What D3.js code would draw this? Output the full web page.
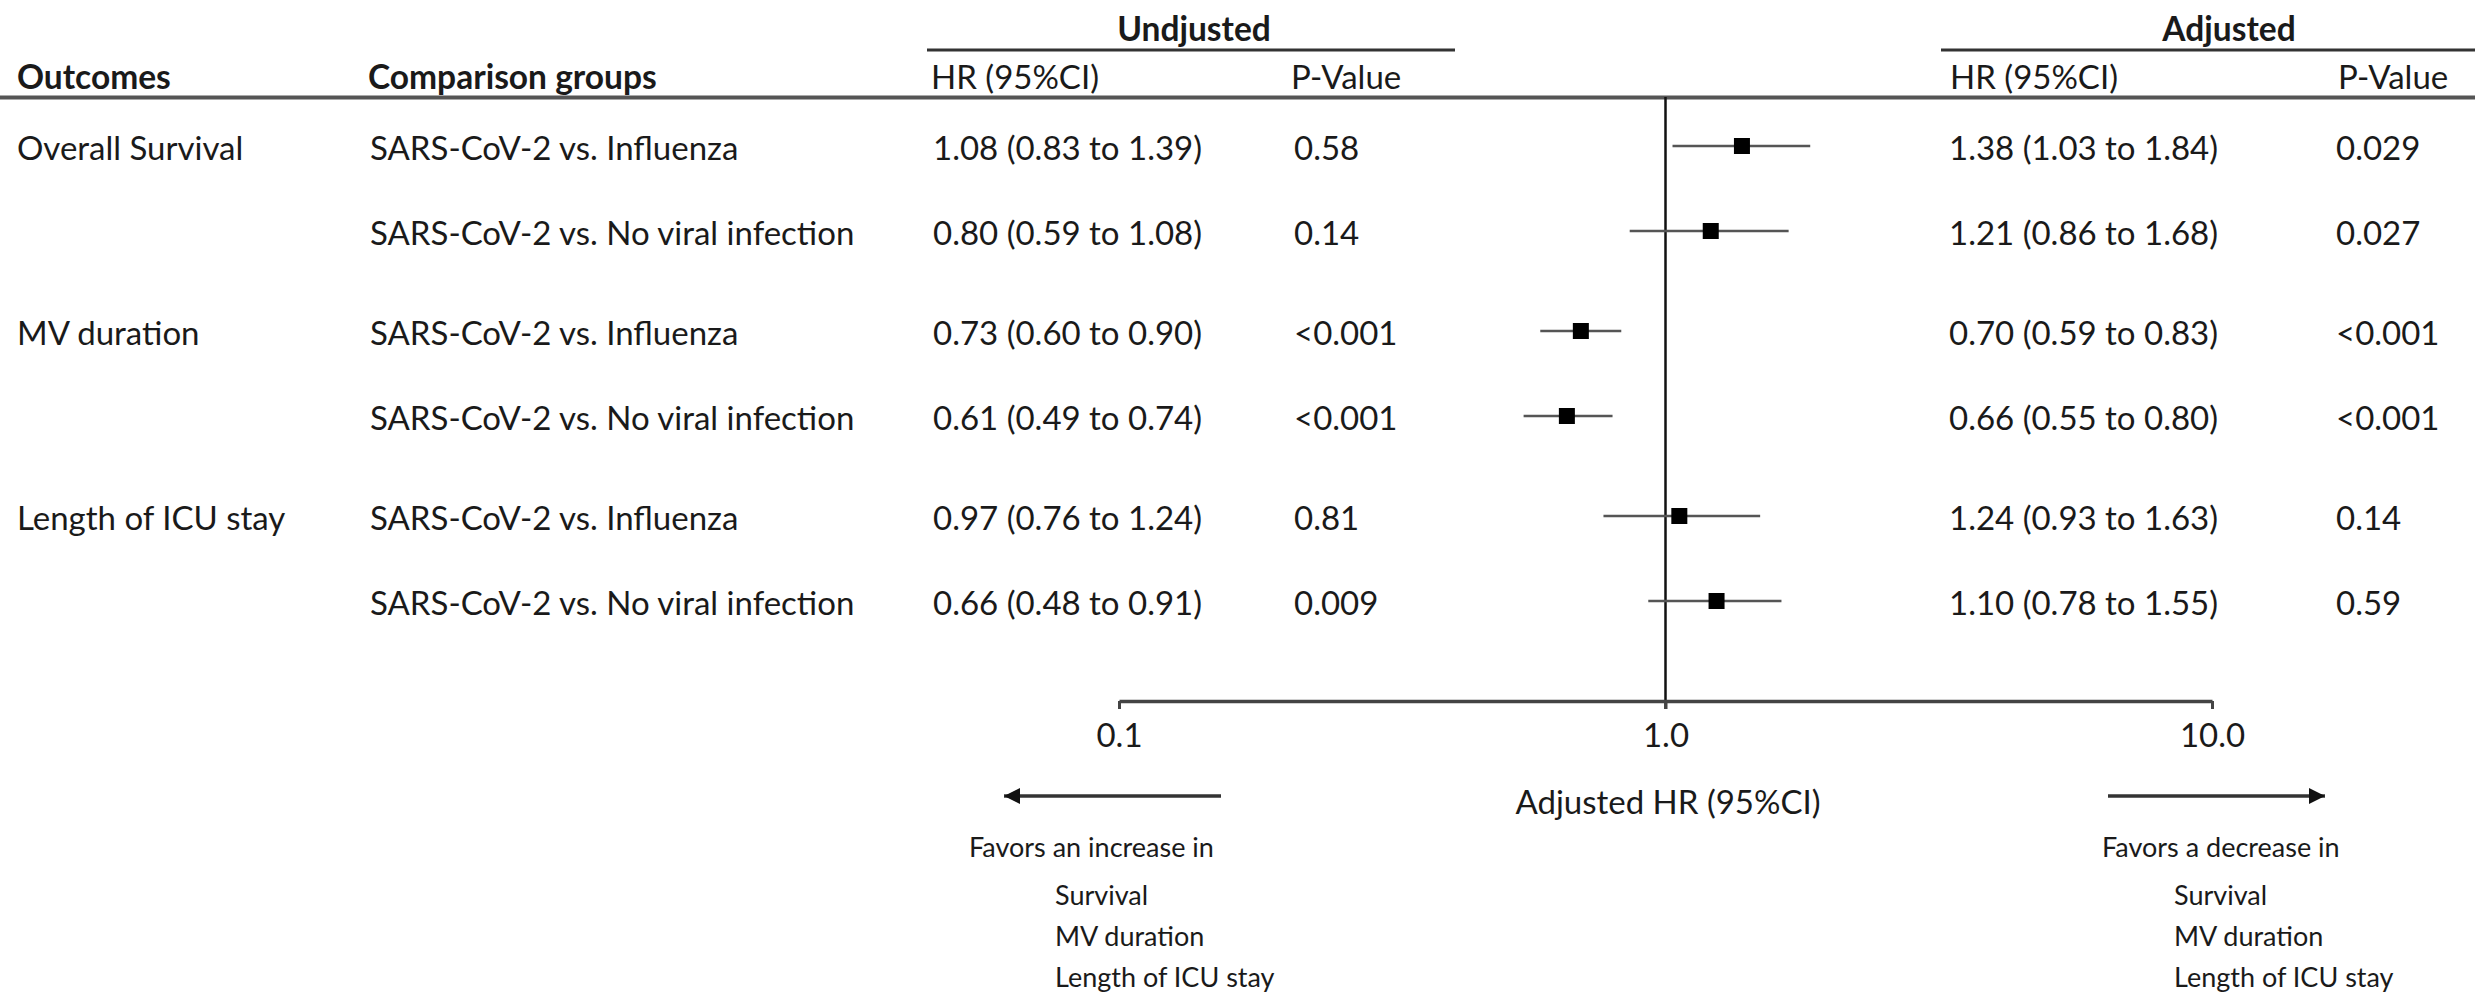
<!DOCTYPE html>
<html>
<head>
<meta charset="utf-8">
<script src="https://cdn.jsdelivr.net/npm/d3@7"></script>
<style>
  html, body { margin: 0; padding: 0; background: #fff; }
  svg { display: block; }
  text { font-family: Lato, "Open Sans", sans-serif; fill: #1a1a1a; }
</style>
</head>
<body>
<svg id="chart" width="2475" height="995"></svg>
<script>
// ---------- data ----------
const outcomes = ["Overall Survival", "", "MV duration", "", "Length of ICU stay", ""];
const comparisons = [
  "SARS-CoV-2 vs. Influenza",
  "SARS-CoV-2 vs. No viral infection",
  "SARS-CoV-2 vs. Influenza",
  "SARS-CoV-2 vs. No viral infection",
  "SARS-CoV-2 vs. Influenza",
  "SARS-CoV-2 vs. No viral infection"
];
const unadjHRText = ["1.08 (0.83 to 1.39)", "0.80 (0.59 to 1.08)", "0.73 (0.60 to 0.90)",
                     "0.61 (0.49 to 0.74)", "0.97 (0.76 to 1.24)", "0.66 (0.48 to 0.91)"];
const unadjP = ["0.58", "0.14", "<0.001", "<0.001", "0.81", "0.009"];
const adjHRText = ["1.38 (1.03 to 1.84)", "1.21 (0.86 to 1.68)", "0.70 (0.59 to 0.83)",
                   "0.66 (0.55 to 0.80)", "1.24 (0.93 to 1.63)", "1.10 (0.78 to 1.55)"];
const adjP = ["0.029", "0.027", "<0.001", "<0.001", "0.14", "0.59"];
// plotted markers
const plotHR = [1.38, 1.21, 0.70, 0.66, 1.06, 1.24];
const plotLo = [1.03, 0.86, 0.59, 0.55, 0.77, 0.93];
const plotHi = [1.84, 1.68, 0.83, 0.80, 1.49, 1.63];
const tickValues = [0.1, 1, 10];
const tickLabels = ["0.1", "1.0", "10.0"];
const leftNote = ["Favors an increase in", "Survival", "MV duration", "Length of ICU stay"];
const rightNote = ["Favors a decrease in", "Survival", "MV duration", "Length of ICU stay"];

// ---------- layout ----------
const svg = d3.select("#chart");
const FS = 33;
const FSB = 33.5;
const x = d3.scaleLog().domain([0.1, 10]).range([1119, 2212]);
const rowY = i => 148 + 85 * i + 15 * Math.floor(i / 2);
const idx = d3.range(comparisons.length);

const defs = svg.append("defs");
defs.append("marker").attr("id", "arrowR")
  .attr("viewBox", "0 0 10 10").attr("refX", 10).attr("refY", 5)
  .attr("markerUnits", "userSpaceOnUse").attr("markerWidth", 18).attr("markerHeight", 16)
  .attr("orient", "auto")
  .append("path").attr("d", "M0,0L10,5L0,10z").attr("fill", "#111");

// header
const hdr = svg.append("g");
hdr.append("text").attr("x", 1194).attr("y", 41).attr("text-anchor", "middle")
  .attr("font-weight", "bold").attr("font-size", FSB).text("Undjusted");
hdr.append("text").attr("x", 2229).attr("y", 41).attr("text-anchor", "middle")
  .attr("font-weight", "bold").attr("font-size", FSB).text("Adjusted");
hdr.append("line").attr("x1", 927).attr("x2", 1455).attr("y1", 50).attr("y2", 50)
  .attr("stroke", "#333").attr("stroke-width", 3);
hdr.append("line").attr("x1", 1941).attr("x2", 2475).attr("y1", 50).attr("y2", 50)
  .attr("stroke", "#333").attr("stroke-width", 3);
const colHead = [
  {t: "Outcomes", x: 17, b: true}, {t: "Comparison groups", x: 368, b: true},
  {t: "HR (95%CI)", x: 931, b: false}, {t: "P-Value", x: 1291, b: false},
  {t: "HR (95%CI)", x: 1950, b: false}, {t: "P-Value", x: 2338, b: false}
];
hdr.selectAll(".ch").data(colHead).join("text").attr("class", "ch")
  .attr("x", d => d.x).attr("y", 89)
  .attr("font-size", d => d.b ? FSB : FS)
  .attr("font-weight", d => d.b ? "bold" : "normal").text(d => d.t);
hdr.append("line").attr("x1", 0).attr("x2", 2475).attr("y1", 97.5).attr("y2", 97.5)
  .attr("stroke", "#555").attr("stroke-width", 4);

// table rows
const cols = [
  {arr: outcomes, x: 17}, {arr: comparisons, x: 370},
  {arr: unadjHRText, x: 933}, {arr: unadjP, x: 1294},
  {arr: adjHRText, x: 1949}, {arr: adjP, x: 2336}
];
cols.forEach(c => {
  svg.append("g").selectAll("text").data(idx).join("text")
    .attr("x", c.x).attr("y", i => rowY(i) + 12).attr("font-size", FS)
    .text(i => c.arr[i]);
});

// reference line at 1
svg.append("line").attr("x1", x(1)).attr("x2", x(1)).attr("y1", 97).attr("y2", 709)
  .attr("stroke", "#111").attr("stroke-width", 2.5);

// CI lines and squares
const plot = svg.append("g");
plot.selectAll(".ci").data(idx).join("line").attr("class", "ci")
  .attr("x1", i => x(plotLo[i])).attr("x2", i => x(plotHi[i]))
  .attr("y1", i => rowY(i) - 2).attr("y2", i => rowY(i) - 2)
  .attr("stroke", "#555").attr("stroke-width", 2.5);
plot.selectAll(".pt").data(idx).join("rect").attr("class", "pt")
  .attr("x", i => x(plotHR[i]) - 8).attr("y", i => rowY(i) - 10)
  .attr("width", 16).attr("height", 16).attr("fill", "#000");

// axis
const axisG = svg.append("g").attr("transform", "translate(0,701)")
  .call(d3.axisBottom(x).tickValues(tickValues).tickFormat((d, i) => tickLabels[i])
    .tickSizeInner(8).tickSizeOuter(0).tickPadding(15));
axisG.select(".domain").attr("stroke", "#444").attr("stroke-width", 3.5);
axisG.selectAll(".tick line").attr("stroke", "#444").attr("stroke-width", 3);
axisG.selectAll(".tick text").attr("font-size", FS).attr("font-family", "Lato, sans-serif")
  .attr("fill", "#1a1a1a").attr("dy", "0.71em");

svg.append("text").attr("x", 1668).attr("y", 814).attr("text-anchor", "middle")
  .attr("font-size", FS).text("Adjusted HR (95%CI)");

// arrows
svg.append("line").attr("x1", 1221).attr("x2", 1004).attr("y1", 796).attr("y2", 796)
  .attr("stroke", "#333").attr("stroke-width", 3.5).attr("marker-end", "url(#arrowR)");
svg.append("line").attr("x1", 2108).attr("x2", 2325).attr("y1", 796).attr("y2", 796)
  .attr("stroke", "#333").attr("stroke-width", 3.5).attr("marker-end", "url(#arrowR)");

// notes
const noteY = [857, 905, 946, 987];
const FS2 = 27;
svg.append("g").selectAll("text").data(leftNote).join("text")
  .attr("x", (d, i) => i === 0 ? 969 : 1055).attr("y", (d, i) => noteY[i])
  .attr("font-size", FS2).text(d => d);
svg.append("g").selectAll("text").data(rightNote).join("text")
  .attr("x", (d, i) => i === 0 ? 2102 : 2174).attr("y", (d, i) => noteY[i])
  .attr("font-size", FS2).text(d => d);
</script>
</body>
</html>
